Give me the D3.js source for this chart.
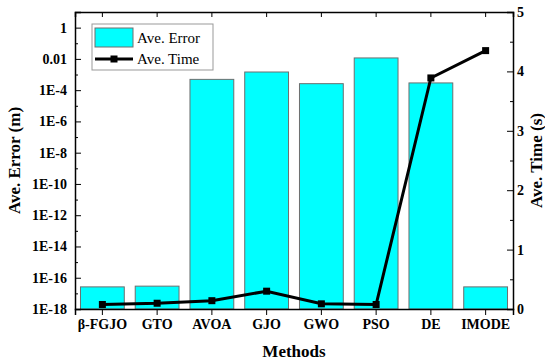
<!DOCTYPE html>
<html>
<head>
<meta charset="utf-8">
<script src="https://cdn.jsdelivr.net/npm/d3@7"></script>
<style>
  body { margin: 0; background: #fff; }
  svg text { font-family: "Liberation Serif", "Times New Roman", serif; }
</style>
</head>
<body>
<svg id="drawing_region"></svg>
<script>
const methods = ["β-FGJO", "GTO", "AVOA", "GJO", "GWO", "PSO", "DE", "IMODE"];
const ave_error = [2.6e-17, 2.9e-17, 4.9e-4, 1.45e-3, 2.6e-4, 0.0115, 2.9e-4, 2.6e-17];
const ave_time = [0.076, 0.097, 0.14, 0.30, 0.087, 0.076, 3.89, 4.35];
const error_ticks = [1, 1e-2, 1e-4, 1e-6, 1e-8, 1e-10, 1e-12, 1e-14, 1e-16, 1e-18];
const error_labels = ["1", "0.01", "1E-4", "1E-6", "1E-8", "1E-10", "1E-12", "1E-14", "1E-16", "1E-18"];
const time_ticks = [0, 1, 2, 3, 4, 5];

const config = {
  width: 545,
  height: 364,
  margin: {top: 12, right: 32, bottom: 55, left: 75}
};

const svg = d3.select('#drawing_region')
  .attr('width', config.width)
  .attr('height', config.height);

const chart_width = config.width - config.margin.left - config.margin.right;
const chart_height = config.height - config.margin.top - config.margin.bottom;

const chart = svg.append('g')
  .attr('transform', `translate(${config.margin.left}, ${config.margin.top})`);

const x_scale = d3.scaleBand()
  .domain(methods)
  .range([0, chart_width])
  .paddingInner(0.2)
  .paddingOuter(0.1);

const y_scale = d3.scaleLog()
  .domain([1e-18, 10])
  .range([chart_height, 0]);

const y2_scale = d3.scaleLinear()
  .domain([0, 5])
  .range([chart_height, 0]);

// bars
chart.selectAll('rect.bar')
  .data(methods)
  .enter()
  .append('rect')
  .attr('class', 'bar')
  .attr('x', d => x_scale(d))
  .attr('width', x_scale.bandwidth())
  .attr('y', (d, i) => y_scale(ave_error[i]))
  .attr('height', (d, i) => chart_height - y_scale(ave_error[i]))
  .attr('fill', '#00ffff')
  .attr('stroke', '#6e6e6e')
  .attr('stroke-width', 1);

// time line
const cx = d => x_scale(d) + x_scale.bandwidth() / 2;
const line = d3.line()
  .x(d => cx(d))
  .y((d, i) => y2_scale(ave_time[i]));

chart.append('path')
  .attr('d', line(methods))
  .attr('fill', 'none')
  .attr('stroke', 'black')
  .attr('stroke-width', 3);

chart.selectAll('rect.pt')
  .data(methods)
  .enter()
  .append('rect')
  .attr('class', 'pt')
  .attr('x', d => cx(d) - 3.5)
  .attr('y', (d, i) => y2_scale(ave_time[i]) - 3.5)
  .attr('width', 7)
  .attr('height', 7)
  .attr('fill', 'black');

// axes
const tick_font = g => g.selectAll('text')
  .attr('font-family', '"Liberation Serif", serif')
  .attr('font-weight', 'bold')
  .attr('font-size', 14)
  .attr('fill', 'black');

const x_axis = d3.axisBottom(x_scale).tickSize(6).tickPadding(4);
const xaxis_group = chart.append('g')
  .attr('transform', `translate(0, ${chart_height})`)
  .call(x_axis)
  .call(tick_font);
xaxis_group.select('.domain').attr('stroke-width', 1.5);

const x_top = d3.axisTop(x_scale).tickSize(-5).tickFormat('');
chart.append('g').call(x_top).select('.domain').attr('stroke-width', 1.5);

const y_axis = d3.axisLeft(y_scale)
  .tickValues(error_ticks)
  .tickFormat((d, i) => error_labels[i])
  .tickSize(-6).tickPadding(8);
const yaxis_group = chart.append('g').call(y_axis).call(tick_font);
yaxis_group.select('.domain').attr('stroke-width', 1.5);

const y_minor = d3.axisLeft(y_scale)
  .tickValues(error_ticks.slice(0, 9).map(d => d / 10))
  .tickFormat('').tickSize(-3);
chart.append('g').call(y_minor).select('.domain').remove();

const y2_axis = d3.axisRight(y2_scale)
  .tickValues(time_ticks)
  .tickFormat(d3.format('d'))
  .tickSize(-6).tickPadding(4);
const y2axis_group = chart.append('g')
  .attr('transform', `translate(${chart_width}, 0)`)
  .call(y2_axis).call(tick_font);
y2axis_group.select('.domain').attr('stroke-width', 1.5);

const y2_minor = d3.axisRight(y2_scale)
  .tickValues([0.5, 1.5, 2.5, 3.5, 4.5])
  .tickFormat('').tickSize(-3);
chart.append('g')
  .attr('transform', `translate(${chart_width}, 0)`)
  .call(y2_minor).select('.domain').remove();

// axis titles
svg.append('text')
  .attr('x', config.margin.left + chart_width / 2)
  .attr('y', 357)
  .attr('text-anchor', 'middle')
  .attr('font-weight', 'bold')
  .attr('font-size', 17)
  .text('Methods');

svg.append('text')
  .attr('transform', `translate(20, ${config.margin.top + chart_height / 2}) rotate(-90)`)
  .attr('text-anchor', 'middle')
  .attr('font-weight', 'bold')
  .attr('font-size', 17)
  .text('Ave. Error (m)');

svg.append('text')
  .attr('transform', `translate(542, ${config.margin.top + chart_height / 2}) rotate(-90)`)
  .attr('text-anchor', 'middle')
  .attr('font-weight', 'bold')
  .attr('font-size', 17)
  .text('Ave. Time (s)');

// legend
const legend = svg.append('g').attr('transform', 'translate(92, 24)');
legend.append('rect')
  .attr('width', 121).attr('height', 46)
  .attr('fill', 'white').attr('stroke', '#999').attr('stroke-width', 1);
legend.append('rect')
  .attr('x', 3).attr('y', 4).attr('width', 38).attr('height', 19)
  .attr('fill', '#00ffff').attr('stroke', '#6e6e6e');
legend.append('text')
  .attr('x', 45).attr('y', 19)
  .attr('font-size', 15)
  .text('Ave. Error');
legend.append('line')
  .attr('x1', 3).attr('x2', 41).attr('y1', 35).attr('y2', 35)
  .attr('stroke', 'black').attr('stroke-width', 3);
legend.append('rect')
  .attr('x', 18.5).attr('y', 31.5).attr('width', 7).attr('height', 7)
  .attr('fill', 'black');
legend.append('text')
  .attr('x', 45).attr('y', 40)
  .attr('font-size', 15)
  .text('Ave. Time');
</script>
</body>
</html>
